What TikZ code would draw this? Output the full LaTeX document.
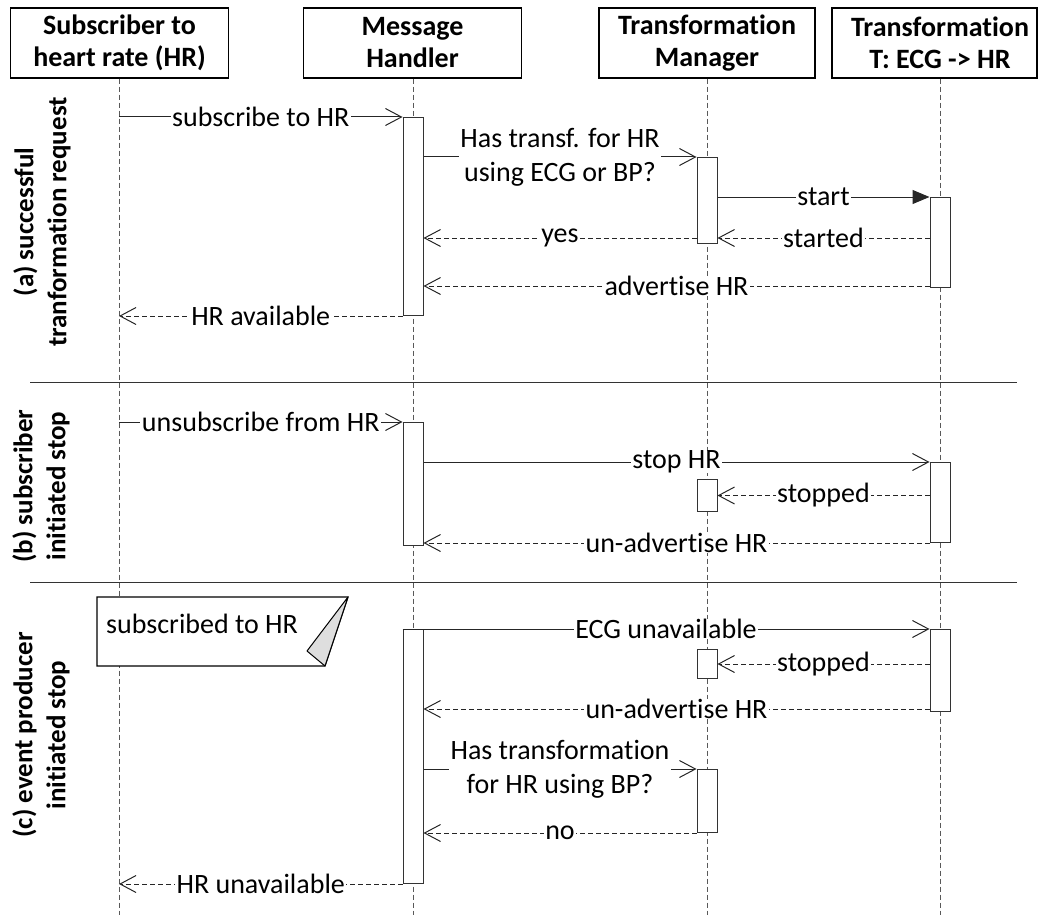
\documentclass[tikz,border=0pt]{standalone}
\usepackage{fontspec}
\setmainfont{Carlito}[RawFeature={-liga;-clig;-calt;-dlig}]
\usetikzlibrary{arrows.meta}
\begin{document}
\begin{tikzpicture}[x=1pt,y=-1pt,
  hdrbox/.style={draw=black, line width=1.2pt, fill=white, minimum width=218pt, minimum height=70pt, inner sep=0pt},
  hdrtext/.style={font=\fontsize{28}{32}\selectfont\bfseries, align=center, inner sep=0pt},
  life/.style={draw=black!65, line width=0.9pt, dash pattern=on 5pt off 3pt},
  act/.style={draw=black!80, fill=white, line width=1pt, minimum width=20pt, inner sep=0pt, anchor=north},
  msg/.style={draw=black!85, line width=1pt, -{Straight Barb[length=16pt,width=17pt]}},
  ret/.style={msg, dash pattern=on 5pt off 3pt},
  call/.style={draw=black!85, line width=1pt, -{Triangle[length=17pt,width=14pt]}},
  lab/.style={fill=white, inner xsep=1.5pt, inner ysep=0pt, font=\fontsize{28}{34}\selectfont, align=center},
  side/.style={font=\fontsize{27}{33}\selectfont\bfseries, align=center, rotate=90, inner sep=0pt},
  sep/.style={draw=black!80, line width=1pt}
]
\useasboundingbox (0,0) rectangle (1039,915);

% header boxes
\node[hdrbox] (h1) at (119.5,43) {};
\node[hdrtext] (t1) at (h1) {Subscriber to\\heart rate (HR)};
\node[hdrbox] (h2) at (412.5,43) {};
\node[hdrtext] (t2) at (h2) {Message\\Handler};
\node[hdrbox, minimum width=216pt] (h3) at (707,43) {};
\node[hdrtext] (t3) at (h3) {Transformation\\Manager};
\node[hdrbox, minimum width=205pt] (h4) at (934.5,43) {};
\node[hdrtext] (t4) at (940,43) {Transformation\\T: ECG -> HR};

% lifeline ends
\coordinate (e1) at (119,915);
\coordinate (e2) at (413,915);
\coordinate (e3) at (707,915);
\coordinate (e4) at (940,915);
\draw[life] (h1.south -| e1) -- (e1);
\draw[life] (h2.south -| e2) -- (e2);
\draw[life] (h3.south -| e3) -- (e3);
\draw[life] (h4.south -| e4) -- (e4);

% separators
\coordinate (s1a) at (30,382);
\coordinate (s1b) at (1017,382);
\coordinate (s2a) at (30,582);
\coordinate (s2b) at (1017,582);
\draw[sep] (s1a) -- (s1b);
\draw[sep] (s2a) -- (s2b);

% side labels
\node[side] (la) at (42,222) {(a) successful\\tranformation request};
\node[side] (lb) at (41,486) {(b) subscriber\\initiated stop};
\node[side] (lc) at (41,735) {(c) event producer\\initiated stop};

% ---------- (a) ----------
\node[act, minimum height=198pt] (A1) at (413,117) {};
\node[act, minimum height=86pt] (A2) at (707,157) {};
\node[act, minimum height=90pt] (A3) at (940,197) {};
\draw[msg] (A1.north west -| e1) -- node[lab]{subscribe to HR} (A1.north west);
\draw[msg] (A2.north west -| A1.east) -- node[lab]{Has transf. for HR\\using ECG or BP?} (A2.north west);
\draw[call] (A3.north west -| A2.east) -- node[lab]{start} (A3.north west);
\draw[ret] ([yshift=6pt]A2.south east -| A3.west) -- node[lab]{started} ([yshift=6pt]A2.south east);
\draw[ret] ([yshift=6pt]A2.south west) -- node[lab]{yes} ([yshift=6pt]A2.south west -| A1.east);
\draw[ret] ([yshift=2pt]A3.south west) -- node[lab]{advertise HR} ([yshift=2pt]A3.south west -| A1.east);
\draw[ret] (A1.south west) -- node[lab]{HR available} (A1.south west -| e1);

% ---------- (b) ----------
\node[act, minimum height=123pt] (B1) at (413,422) {};
\node[act, minimum height=80pt] (B3) at (940,462) {};
\node[act, minimum height=32pt] (B2) at (707,479) {};
\draw[msg] (B1.north west -| e1) -- node[lab]{unsubscribe from HR} (B1.north west);
\draw[msg] (B3.north west -| B1.east) -- node[lab]{stop HR} (B3.north west);
\draw[ret] (B2.east -| B3.west) -- node[lab]{stopped} (B2.east);
\draw[ret] (B3.south west) -- node[lab]{un-advertise HR} (B3.south west -| B1.east);

% ---------- (c) ----------
\node[act, minimum height=254pt] (C1) at (413,629) {};
\node[act, minimum height=82pt] (C3) at (940,629) {};
\node[act, minimum height=29pt] (C2) at (707,649) {};
\node[act, minimum height=63pt] (C4) at (707,769) {};

% note
\coordinate (n1) at (97,597);
\coordinate (n2) at (348,597);
\coordinate (n3) at (325,666);
\coordinate (n4) at (97,666);
\coordinate (n5) at (307,651);
\draw[line width=1.2pt, fill=white] (n1) -- (n2) -- (n3) -- (n4) -- cycle;
\draw[line width=1pt, fill=black!13, line join=round] (n2) -- (n5) -- (n3) -- cycle;
\node[anchor=west, font=\fontsize{28}{34}\selectfont, inner sep=0pt] (note) at (106,624) {subscribed to HR};

\draw[msg] (C1.north west) -- node[lab]{ECG unavailable} (C3.north west);
\draw[ret] (C2.east -| C3.west) -- node[lab]{stopped} (C2.east);
\draw[ret] ([yshift=3pt]C3.south west) -- node[lab]{un-advertise HR} ([yshift=3pt]C3.south west -| C1.east);
\draw[msg] (C4.north west -| C1.east) -- node[lab]{Has transformation\\for HR using BP?} (C4.north west);
\draw[ret] (C4.south west) -- node[lab]{no} (C4.south west -| C1.east);
\draw[ret] (C1.south west) -- node[lab]{HR unavailable} (C1.south west -| e1);
\end{tikzpicture}
\end{document}
